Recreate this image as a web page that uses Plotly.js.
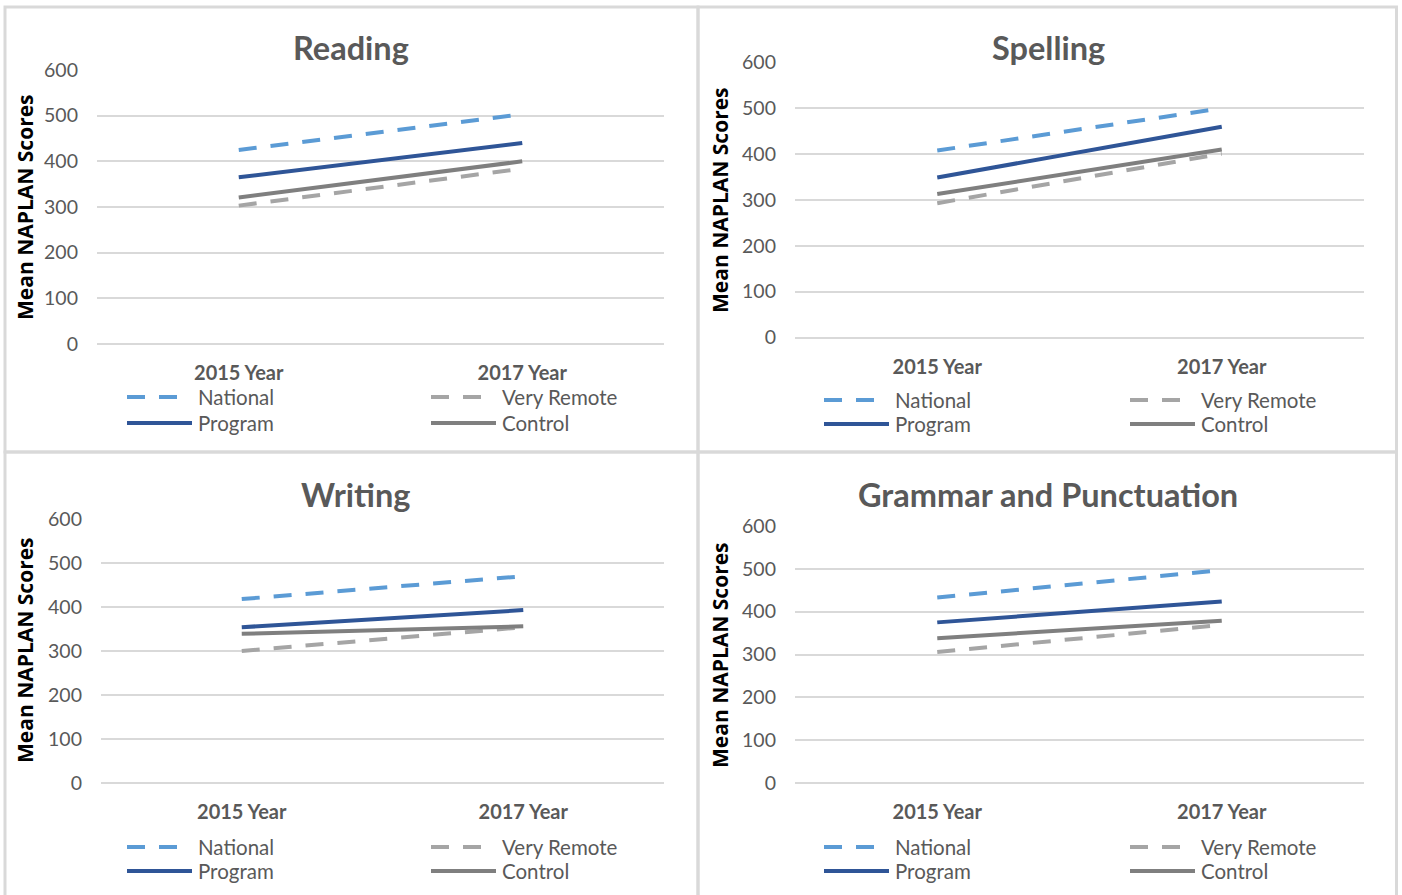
<!DOCTYPE html>
<html>
<head>
<meta charset="utf-8">
<script src="https://cdn.plot.ly/plotly-3.0.1.min.js"></script>
<style>
html,body{margin:0;padding:0;background:#fff;}
#chart{width:1402px;height:895px;}
</style>
</head>
<body>
<div id="chart"></div>
<script>
// ---- data ----
const years = ['2015 Year', '2017 Year'];
const panelTitles = ['Reading', 'Spelling', 'Writing', 'Grammar and Punctuation'];
const seriesNames = ['National', 'Very Remote', 'Program', 'Control'];
const yTickValues = [0, 100, 200, 300, 400, 500, 600];
const yAxisTitle = 'Mean NAPLAN Scores';

const readingNational = [425, 503];
const readingVeryRemote = [303, 384];
const readingProgram = [365, 440];
const readingControl = [321, 400];

const spellingNational = [408, 500];
const spellingVeryRemote = [293, 401];
const spellingProgram = [349, 460];
const spellingControl = [313, 410];

const writingNational = [418, 470];
const writingVeryRemote = [300, 354];
const writingProgram = [354, 393];
const writingControl = [339, 356];

const grammarNational = [433, 497];
const grammarVeryRemote = [306, 369];
const grammarProgram = [375, 424];
const grammarControl = [338, 379];

const panelData = [
  [readingNational, readingVeryRemote, readingProgram, readingControl],
  [spellingNational, spellingVeryRemote, spellingProgram, spellingControl],
  [writingNational, writingVeryRemote, writingProgram, writingControl],
  [grammarNational, grammarVeryRemote, grammarProgram, grammarControl]
];

// ---- styles ----
const W = 1402, H = 895;
const px = v => v / W;
const py = v => 1 - v / H;

const seriesStyle = [
  {color: '#5B9BD5', dash: '18px,14px', sample: 52},
  {color: '#A5A5A5', dash: '18px,14px', sample: 52},
  {color: '#2F5597', dash: 'solid', sample: 65},
  {color: '#7F7F7F', dash: 'solid', sample: 65}
];
const lineWidth = 4;

// panel geometry in pixels
const panels = [
  {x0: 97,  x1: 664,  yTop: 70,  yBot: 344,   titleX: 351,  titleY: 48,  yTitleX: 25,  yTitleY: 207, legRow1: 397, legRow2: 423, legC1: 127, legC2: 431},
  {x0: 795, x1: 1364, yTop: 62.5,  yBot: 337.5, titleX: 1048, titleY: 48,  yTitleX: 720, yTitleY: 200, legRow1: 400, legRow2: 424, legC1: 824, legC2: 1130},
  {x0: 101, x1: 664,  yTop: 519, yBot: 783,   titleX: 355,  titleY: 494, yTitleX: 25,  yTitleY: 650, legRow1: 847, legRow2: 871, legC1: 127, legC2: 431},
  {x0: 795, x1: 1364, yTop: 526, yBot: 783,   titleX: 1048, titleY: 494, yTitleX: 720, yTitleY: 655, legRow1: 847, legRow2: 871, legC1: 824, legC2: 1130}
];

const FONT = 'Lato, "Open Sans", sans-serif';
const TXT = '#595959';

const traces = [];
const layout = {
  width: W, height: H,
  margin: {l: 0, r: 0, t: 0, b: 0},
  paper_bgcolor: '#ffffff',
  plot_bgcolor: 'rgba(0,0,0,0)',
  showlegend: false,
  font: {family: FONT, color: TXT},
  shapes: [],
  annotations: []
};

// panel borders
const borders = [
  [5, 698, 7, 452], [698, 1396.5, 7, 452], [5, 698, 452, 900], [698, 1396.5, 452, 900]
];
borders.forEach(b => {
  layout.shapes.push({type: 'rect', xref: 'paper', yref: 'paper',
    x0: px(b[0]), x1: px(b[1]), y0: py(b[3]), y1: py(b[2]),
    line: {color: '#D9D9D9', width: 3}, fillcolor: 'rgba(0,0,0,0)', layer: 'below'});
});

panels.forEach((p, i) => {
  const n = i + 1;
  const xa = 'xaxis' + (n === 1 ? '' : n);
  const ya = 'yaxis' + (n === 1 ? '' : n);
  const xr = 'x' + (n === 1 ? '' : n);
  const yr = 'y' + (n === 1 ? '' : n);

  layout[xa] = {
    domain: [px(p.x0), px(p.x1)], anchor: yr, type: 'category',
    range: [-0.5, 1.5], showgrid: false, zeroline: false, showline: false,
    ticks: '', ticklabelstandoff: 15, fixedrange: true,
    tickfont: {family: FONT, size: 20, color: TXT, weight: 'bold'}
  };
  layout[ya] = {
    domain: [py(p.yBot), py(p.yTop)], anchor: xr, range: [0, 600],
    tickvals: yTickValues, ticktext: yTickValues.map(String),
    showgrid: true, gridcolor: '#D9D9D9', gridwidth: 2,
    zeroline: true, zerolinecolor: '#D9D9D9', zerolinewidth: 2,
    showline: false, ticks: '', ticklabelstandoff: 18, fixedrange: true,
    tickfont: {family: FONT, size: 19.5, color: TXT}
  };

  panelData[i].forEach((vals, s) => {
    traces.push({
      type: 'scatter', mode: 'lines', x: years, y: vals,
      name: seriesNames[s], xaxis: xr, yaxis: yr,
      line: {color: seriesStyle[s].color, width: lineWidth, dash: seriesStyle[s].dash},
      hoverinfo: 'skip'
    });
  });

  // panel title
  layout.annotations.push({xref: 'paper', yref: 'paper', x: px(p.titleX), y: py(p.titleY),
    xanchor: 'center', yanchor: 'middle', showarrow: false, text: panelTitles[i],
    font: {family: FONT, size: 32.5, color: TXT, weight: 'bold'}});
  // y axis title
  layout.annotations.push({xref: 'paper', yref: 'paper', x: px(p.yTitleX), y: py(p.yTitleY),
    xanchor: 'center', yanchor: 'middle', showarrow: false, text: yAxisTitle, textangle: -90,
    font: {family: '"Open Sans", sans-serif', size: 21, color: '#000000', weight: 'bold'}});

  // legend (2 x 2)
  const legPos = [
    [p.legC1, p.legRow1], [p.legC2, p.legRow1], [p.legC1, p.legRow2], [p.legC2, p.legRow2]
  ];
  seriesNames.forEach((name, s) => {
    const lx = legPos[s][0], ly = legPos[s][1];
    layout.shapes.push({type: 'line', xref: 'paper', yref: 'paper',
      x0: px(lx), x1: px(lx + seriesStyle[s].sample), y0: py(ly), y1: py(ly),
      line: {color: seriesStyle[s].color, width: lineWidth, dash: seriesStyle[s].dash}});
    layout.annotations.push({xref: 'paper', yref: 'paper', x: px(lx + 69), y: py(ly),
      xanchor: 'left', yanchor: 'middle', showarrow: false, text: name,
      font: {family: FONT, size: 20.5, color: TXT}});
  });
});

Plotly.newPlot('chart', traces, layout, {staticPlot: true, displayModeBar: false});
</script>
</body>
</html>
